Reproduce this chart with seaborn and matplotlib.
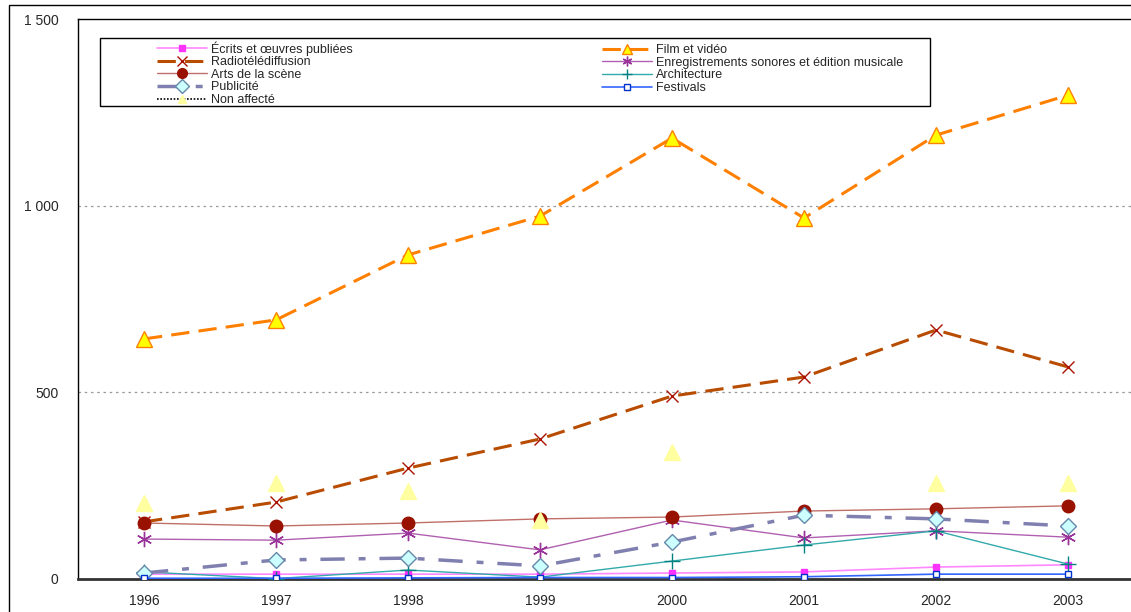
import numpy as np
import pandas as pd
import matplotlib
matplotlib.use("Agg")
import matplotlib.pyplot as plt
import seaborn as sns
from matplotlib.lines import Line2D
from matplotlib.patches import Rectangle

# Données
years = ["1996", "1997", "1998", "1999", "2000", "2001", "2002", "2003"]
ecrits = [13, 13, 13, 13, 16, 19, 32, 38]
film = [643, 694, 868, 972, 1181, 967, 1189, 1296]
radio = [153, 206, 297, 375, 490, 541, 667, 568]
enreg = [107, 104, 123, 78, 158, 110, 129, 112]
arts = [150, 142, 150, 161, 166, 182, 188, 196]
archi = [19, 1, 24, 5, 48, 91, 129, 40]
pub = [16, 51, 56, 35, 99, 171, 161, 142]
festivals = [2, 2, 3, 4, 4, 6, 13, 13]
non_affecte = [203, 257, 236, 158, 340, np.nan, 257, 257]

y_ticks = [0, 500, 1000, 1500]
y_ticklabels = ["0", "500", "1 000", "1 500"]

sns.set_style("white")
plt.rcParams["font.family"] = ["Liberation Sans", "DejaVu Sans"]

# Styles par série
series = [
    ("Écrits et œuvres publiées", ecrits,
     dict(color="#FF88FF", lw=1.2, ls="-", marker="s", ms=5, mfc="#FF33FF", mec="#FF33FF")),
    ("Film et vidéo", film,
     dict(color="#FF8000", lw=2.2, ls=(0, (6, 3)), marker="^", ms=11, mfc="#FFFF00", mec="#FF8000", mew=1)),
    ("Radiotélédiffusion", radio,
     dict(color="#B84C00", lw=2.2, ls=(0, (6, 3)), marker="x", ms=8, mfc="none", mec="#AA1100", mew=1)),
    ("Enregistrements sonores et édition musicale", enreg,
     dict(color="#B060B0", lw=1.0, ls="-", marker=(6, 2, 0), ms=11, mec="#993399", mew=1)),
    ("Arts de la scène", arts,
     dict(color="#C07068", lw=1.0, ls="-", marker="o", ms=9, mfc="#991100", mec="#991100")),
    ("Architecture", archi,
     dict(color="#33AAAA", lw=1.0, ls="-", marker="+", ms=11, mec="#008080", mew=1)),
    ("Publicité", pub,
     dict(color="#8080B0", lw=2.5, ls=(0, (7, 4, 2, 4)), marker="D", ms=8, mfc="#CCFFFF", mec="#6688AA", mew=1)),
    ("Festivals", festivals,
     dict(color="#3366FF", lw=1.2, ls="-", marker="s", ms=4, mfc="white", mec="#0033CC", mew=1)),
    ("Non affecté", non_affecte,
     dict(color="black", lw=0, ls="none", marker="^", ms=11, mfc="#FFFFA0", mec="#FFFFA0")),
]

W, H = 1131, 612
fig = plt.figure(figsize=(W / 100, H / 100), dpi=100)
ax = fig.add_axes([78 / W, 33 / H, 1056 / W, 560 / H])

x = np.arange(len(years))
handles = {}
for name, vals, st in series:
    df = pd.DataFrame({"x": x, "y": vals})
    if st["ls"] == "none":
        d = df.dropna()
        ax.plot(d["x"], d["y"], linestyle="none", marker=st["marker"], ms=st["ms"],
                mfc=st["mfc"], mec=st["mec"], zorder=3)
        handles[name] = Line2D([], [], color="black", lw=1.2, ls=(0, (1, 1)),
                               marker="^", ms=6, mfc="#FFFFA0", mec="#FFFFA0")
        continue
    sns.lineplot(data=df, x="x", y="y", ax=ax, estimator=None, sort=False,
                 color=st["color"], linewidth=st["lw"], linestyle=st["ls"],
                 marker=st["marker"], markersize=st["ms"],
                 markerfacecolor=st.get("mfc", st["color"]),
                 markeredgecolor=st.get("mec", st["color"]),
                 markeredgewidth=st.get("mew", 1), zorder=3)
    handles[name] = Line2D([], [], color=st["color"], lw=st["lw"], ls=st["ls"],
                           marker=st["marker"], ms=min(st["ms"], 7),
                           mfc=st.get("mfc", st["color"]), mec=st.get("mec", st["color"]),
                           mew=st.get("mew", 1))

ax.set_xlim(-0.5, 7.5)
ax.set_ylim(0, 1500)
ax.set_xlabel("")
ax.set_ylabel("")

ax.set_xticks(x)
ax.set_xticklabels(years, fontsize=10)
ax.set_xticks(np.arange(-0.5, 8, 1), minor=True)
ax.tick_params(axis="x", which="major", length=0, pad=11)
ax.tick_params(axis="x", which="minor", length=6, direction="inout", width=1, color="#333333")

ax.set_yticks(y_ticks)
ax.set_yticklabels(y_ticklabels, fontsize=10)
ax.tick_params(axis="y", length=4, direction="out", width=1, color="black", pad=10)

for v in [500, 1000]:
    ax.axhline(v, color="#999999", lw=0.9, ls=(0, (2, 3)), zorder=1)

for s in ["left", "top"]:
    ax.spines[s].set_color("black")
    ax.spines[s].set_linewidth(1)
ax.spines["bottom"].set_color("#333333")
ax.spines["bottom"].set_linewidth(2)
ax.spines["right"].set_visible(False)

# Légende : deux colonnes placées séparément, dans un cadre commun
col1 = ["Écrits et œuvres publiées", "Radiotélédiffusion", "Arts de la scène",
        "Publicité", "Non affecté"]
col2 = ["Film et vidéo", "Enregistrements sonores et édition musicale",
        "Architecture", "Festivals"]

def px_to_axes(px, py):
    return ((px - 78) / 1056, 1 - (py - 19) / 560)

leg_kw = dict(loc="upper left", fontsize=9, frameon=False,
              handlelength=4.0, handletextpad=0.35, labelspacing=0.05,
              borderpad=0, borderaxespad=0)
leg1 = ax.legend([handles[n] for n in col1], col1,
                 bbox_to_anchor=px_to_axes(157, 41), **leg_kw)
ax.add_artist(leg1)
leg2 = ax.legend([handles[n] for n in col2], col2,
                 bbox_to_anchor=px_to_axes(602, 44), **leg_kw)

x0, y0 = px_to_axes(100, 106)
x1, y1 = px_to_axes(930, 38)
ax.add_patch(Rectangle((x0, y0), x1 - x0, y1 - y0, transform=ax.transAxes,
                       fill=True, facecolor="white", edgecolor="black", lw=1, zorder=4))
leg1.set_zorder(5)
leg2.set_zorder(5)

# Cadre extérieur
fig.patches.append(Rectangle((9 / W, -0.1), 1.2, 1 - 5 / H + 0.1,
                             transform=fig.transFigure, fill=False,
                             edgecolor="black", lw=1, zorder=0))

fig.savefig("out.png", dpi=100)
